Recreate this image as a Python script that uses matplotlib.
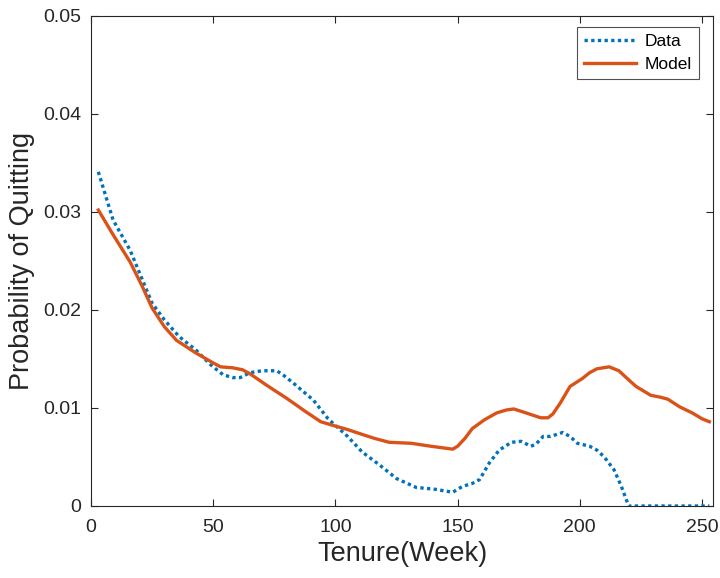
import matplotlib
matplotlib.use("Agg")
import matplotlib.pyplot as plt

# Observed data (blue dotted)
data_weeks = [3, 9, 16, 21, 25, 30, 36, 43, 49, 54, 58, 61, 65, 70, 76, 79, 83,
              91, 97, 105, 111, 118, 125, 133, 141, 148, 152, 156, 159, 163,
              167, 172, 176, 180, 182, 185, 188, 193, 196, 199, 204, 207, 210,
              214, 217, 220, 230, 240, 253]
data_prob = [0.0341, 0.0292, 0.0261, 0.0231, 0.0207, 0.0190, 0.0173, 0.0159,
             0.0144, 0.0134, 0.0131, 0.0131, 0.0136, 0.0138, 0.0138, 0.0133,
             0.0125, 0.0108, 0.0089, 0.0071, 0.0055, 0.0042, 0.0028, 0.0019,
             0.0017, 0.0014, 0.0020, 0.0023, 0.0027, 0.0044, 0.0057, 0.0065,
             0.0066, 0.0061, 0.0063, 0.0071, 0.0071, 0.0075, 0.0071, 0.0064,
             0.0061, 0.0057, 0.0050, 0.0037, 0.0020, 0.0, 0.0, 0.0, 0.0]

# Model prediction (orange solid)
model_weeks = [3, 9, 16, 21, 25, 30, 35, 43, 50, 53, 58, 62, 65, 72, 80, 88,
               94, 98, 105, 111, 116, 122, 131, 139, 148, 150, 153, 156, 161,
               166, 170, 173, 178, 184, 187, 189, 192, 196, 201, 204, 207, 212,
               216, 219, 223, 229, 233, 236, 241, 246, 250, 253]
model_prob = [0.0302, 0.0277, 0.0249, 0.0224, 0.0202, 0.0183, 0.0169, 0.0156,
              0.0146, 0.0142, 0.0141, 0.0139, 0.0135, 0.0123, 0.0110, 0.0096,
              0.0086, 0.0083, 0.0078, 0.0073, 0.0069, 0.0065, 0.0064, 0.0061,
              0.0058, 0.0061, 0.0069, 0.0079, 0.0088, 0.0095, 0.0098, 0.0099,
              0.0095, 0.0090, 0.0090, 0.0094, 0.0105, 0.0122, 0.0130, 0.0136,
              0.0140, 0.0142, 0.0138, 0.0131, 0.0122, 0.0113, 0.0111, 0.0109,
              0.0101, 0.0095, 0.0089, 0.0086]

x_ticks = [0, 50, 100, 150, 200, 250]
y_ticks = [0, 0.01, 0.02, 0.03, 0.04, 0.05]
y_tick_labels = ["0", "0.01", "0.02", "0.03", "0.04", "0.05"]

plt.rcParams['font.family'] = ['Liberation Sans', 'DejaVu Sans']

fig = plt.figure(figsize=(7.2, 5.78), dpi=100)
ax = fig.add_axes([91/720, 1 - 506/578, (713-91)/720, (506-16)/578])

ax.plot(data_weeks, data_prob, linestyle=(0, (1, 1)), color='#0072BD',
        linewidth=2.4, label='Data')
ax.plot(model_weeks, model_prob, linestyle='-', color='#D95319',
        linewidth=2.4, label='Model')

ax.set_xlim(0, 254.5)
ax.set_ylim(0, 0.05)
ax.set_xticks(x_ticks)
ax.set_yticks(y_ticks)
ax.set_yticklabels(y_tick_labels)
ax.tick_params(direction='in', length=5, width=0.8, colors='#262626',
               labelsize=14, top=True, right=True)
ax.tick_params(axis='x', pad=9)
ax.tick_params(axis='y', pad=7)
for s in ax.spines.values():
    s.set_color('#262626')
    s.set_linewidth(0.8)

ax.set_xlabel('Tenure(Week)', fontsize=19.5, color='#262626', labelpad=4)
ax.set_ylabel('Probability of Quitting', fontsize=19.5, color='#262626', labelpad=6)

leg = ax.legend(loc='upper right', fontsize=12.5, frameon=True, fancybox=False,
                edgecolor='#262626', handlelength=3.0, borderpad=0.4,
                labelspacing=0.45, handletextpad=0.5, borderaxespad=0,
                bbox_to_anchor=(0.9775, 0.978))
leg.get_frame().set_linewidth(0.8)

fig.savefig('out.png', dpi=100)
